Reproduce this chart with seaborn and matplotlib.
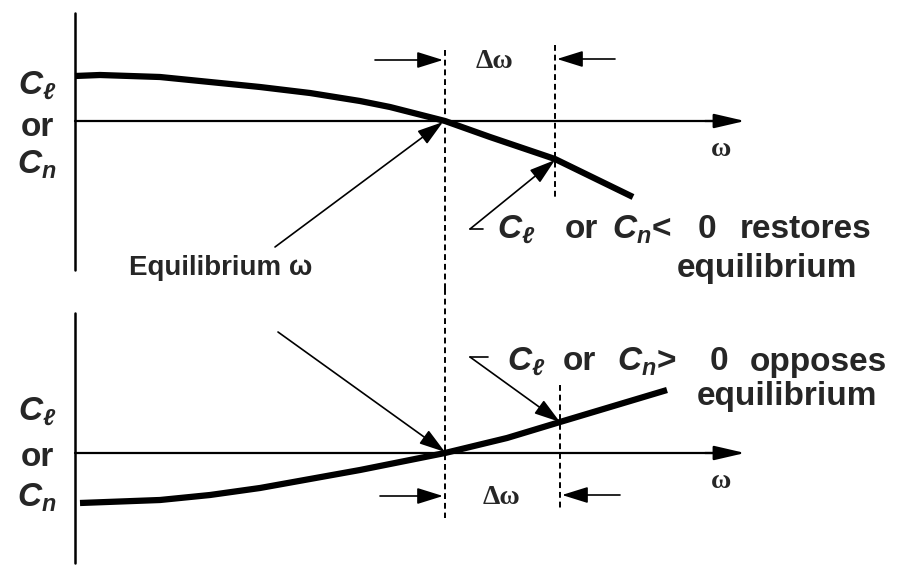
import matplotlib
matplotlib.use("Agg")
import matplotlib.pyplot as plt
import pandas as pd
import seaborn as sns

# curves (omega from the vertical axis, 1 unit = 100 px)
omega_top = [0.0, 0.25, 0.85, 1.35, 1.85, 2.35, 2.85, 3.15, 3.70, 4.15, 4.80, 5.58]
coef_top = [0.45, 0.46, 0.44, 0.39, 0.34, 0.28, 0.20, 0.14, 0.0, -0.16, -0.38, -0.76]

omega_bot = [0.05, 0.85, 1.35, 1.85, 2.35, 2.85, 3.15, 3.70, 4.32, 4.85, 5.92]
coef_bot = [-0.50, -0.47, -0.42, -0.35, -0.26, -0.17, -0.11, 0.0, 0.15, 0.31, 0.63]

omega_eq = 3.70
omega_shift = [4.80, 4.85]   # equilibrium + delta omega, top / bottom

axis_labels = [r"$C_{\ell}$", "or", r"$C_{n}$"]
eq_label = "Equilibrium \u03c9"
top_words = [r"$C_{\ell}$", "or", r"$C_{n}$<", "0", "restores"]
top_word_x = [4.22, 4.90, 5.37, 6.23, 6.65]
bot_words = [r"$C_{\ell}$", "or", r"$C_{n}$>", "0", "opposes"]
bot_word_x = [4.32, 4.88, 5.42, 6.35, 6.75]

sns.set_style("white")
plt.rcParams["font.family"] = ["Liberation Sans", "DejaVu Sans"]
plt.rcParams["font.weight"] = "bold"
plt.rcParams["mathtext.fontset"] = "custom"
plt.rcParams["mathtext.it"] = "Liberation Sans:italic:bold"
plt.rcParams["mathtext.rm"] = "Liberation Sans:bold"
plt.rcParams["mathtext.bf"] = "Liberation Sans:bold"

fig = plt.figure(figsize=(9, 5.77), dpi=100)
ax1 = fig.add_axes([0, 0.5, 1, 0.5])
ax2 = fig.add_axes([0, 0, 1, 0.5])
ax1.set_xlim(-0.75, 8.25)
ax1.set_ylim(-1.675, 1.21)
ax2.set_xlim(-0.75, 8.25)
ax2.set_ylim(-1.24, 1.645)

def arrow(ax, start, end, lw=1.2, hl=0.8, hw=0.25, ms=20):
    ax.annotate("", xy=end, xytext=start,
                arrowprops=dict(arrowstyle=f"-|>,head_length={hl},head_width={hw}",
                                lw=lw, color="black", mutation_scale=ms,
                                shrinkA=0, shrinkB=0))

dash = dict(color="black", lw=1.4, ls=(0, (3, 2)), clip_on=False)
serif = dict(fontsize=20, family="Liberation Serif", ha="center", va="center")

for ax, om, cf, top in [(ax1, omega_top, coef_top, True), (ax2, omega_bot, coef_bot, False)]:
    ax.axis("off")
    df = pd.DataFrame({"omega": om, "coef": cf})
    sns.lineplot(data=df, x="omega", y="coef", ax=ax, color="black", lw=4.5,
                 solid_capstyle="butt", sort=False)
    # axes of the sketch
    if top:
        ax.plot([0, 0], [1.08, -1.49], color="black", lw=1.8)
    else:
        ax.plot([0, 0], [1.40, -1.10], color="black", lw=1.8)
    ax.plot([0, 6.45], [0, 0], color="black", lw=1.6)
    arrow(ax, (6.3, 0), (6.70, 0), lw=1.6, hl=0.95, hw=0.22)
    ax.text(6.46, -0.29, "\u03c9", **serif)
    # left labels
    ys = [0.35, -0.06, -0.44] if top else [0.41, -0.04, -0.45]
    for lab, yy in zip(axis_labels, ys):
        ax.text(-0.38, yy, lab, fontsize=24, ha="center", va="center")

# dashed lines
ax1.plot([omega_eq, omega_eq], [0.71, -1.675], **dash)
ax2.plot([omega_eq, omega_eq], [1.645, -0.65], **dash)
ax1.plot([omega_shift[0]] * 2, [0.76, -0.76], **dash)
ax2.plot([omega_shift[1]] * 2, [0.68, -0.57], **dash)

# delta omega markers
ax1.text(4.19, 0.59, "\u0394\u03c9", **serif)
arrow(ax1, (3.0, 0.61), (omega_eq - 0.02, 0.61))
arrow(ax1, (5.40, 0.62), (omega_shift[0] + 0.02, 0.62))
ax2.text(4.27, -0.44, "\u0394\u03c9", **serif)
arrow(ax2, (3.05, -0.43), (omega_eq - 0.02, -0.43))
arrow(ax2, (5.45, -0.42), (omega_shift[1] + 0.02, -0.42))

# equilibrium label with its two arrows
ax1.text(1.46, -1.47, eq_label, fontsize=20, ha="center", va="center")
arrow(ax1, (2.0, -1.26), (omega_eq - 0.02, -0.01))
arrow(ax2, (2.03, 1.21), (omega_eq, 0.01))

# restoring note
ax1.plot([3.95, 4.08], [-1.08, -1.08], color="black", lw=1.2)
arrow(ax1, (3.95, -1.08), (omega_shift[0], -0.39))
for w, xx in zip(top_words, top_word_x):
    ax1.text(xx, -1.09, w, fontsize=24, ha="left", va="center")
ax1.text(6.92, -1.47, "equilibrium", fontsize=24, ha="center", va="center")

# opposing note
ax2.plot([3.95, 4.13], [0.96, 0.96], color="black", lw=1.2)
arrow(ax2, (3.95, 0.96), (omega_shift[1], 0.31))
for w, xx in zip(bot_words, bot_word_x):
    ax2.text(xx, 0.91, w, fontsize=24, ha="left", va="center")
ax2.text(7.12, 0.56, "equilibrium", fontsize=24, ha="center", va="center")

fig.savefig("out.png", dpi=100)
